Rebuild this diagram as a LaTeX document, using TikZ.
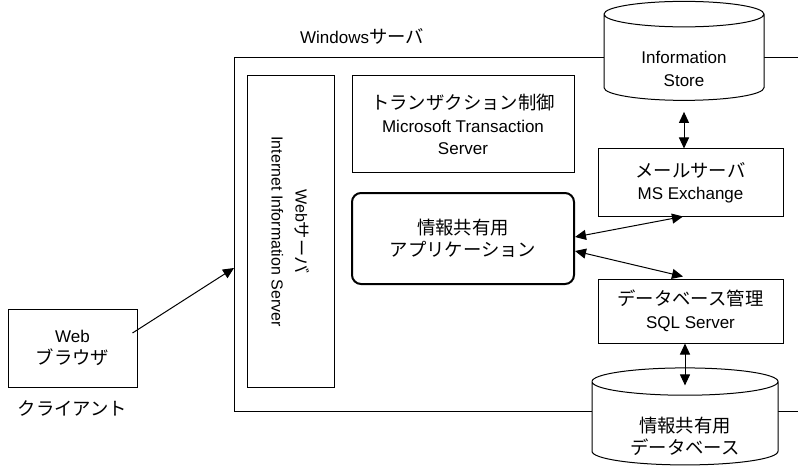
\documentclass[tikz,border=0pt]{standalone}
\usepackage{fontspec}
\setmainfont{Liberation Sans}
\newfontfamily\jp[Scale=1.08]{Noto Sans CJK JP}
\usetikzlibrary{positioning,shapes.geometric,arrows.meta}
\tikzstyle{B} = [rectangle,
			draw, fill=white,
			align=center, inner sep=0pt]
\tikzstyle{D} = [cylinder, shape border rotate=90,
			draw, fill=white,
			align=center, inner sep=0pt]
\tikzstyle{L} = [draw, {Triangle[length=11pt,width=10pt]}-{Triangle[length=11pt,width=10pt]}]
% text of a cylinder, lowered into its body
\newcommand{\cyltext}[2]{\raisebox{#1}[0pt][0pt]{\begin{tabular}{@{}c@{}}#2\end{tabular}}}

\begin{document}
\begin{tikzpicture}[x=1pt, y=-1pt, line width=1pt,
			font=\fontsize{17}{22.5}\selectfont]

\useasboundingbox (0,0) rectangle (798,468);

\node [B, anchor=north west, minimum width=620pt, minimum height=354pt]
(win) at (234,57)
	{};

\node
(wlab) at (362,36)
	{Windows{\jp サーバ}};

\node [B, rotate=-90, minimum width=311pt, minimum height=87pt,
			font=\fontsize{16}{24}\selectfont]
(web) at (290.5,231.5)
	{Web{\jp サーバ}\\Internet Information Server};

\node [B, minimum width=222pt, minimum height=97pt]
(trans) at (463,124.5)
	{{\jp トランザクション制御}\\Microsoft Transaction\\Server};

\node [B, minimum width=222pt, minimum height=91pt,
			rounded corners=9pt, line width=2pt]
(app) at (463,238.5)
	{{\jp 情報共有用}\\{\jp アプリケーション}};

\node [D, minimum width=160pt, minimum height=99pt, aspect=0.3]
(istore) at (684,57.5)
	{\cyltext{-17.5pt}{Information\\Store}};

\node [B, minimum width=185pt, minimum height=67pt]
(mail) at (690.5,182.5)
	{{\jp メールサーバ}\\MS Exchange};

\node [B, minimum width=185pt, minimum height=64pt]
(dbms) at (690.5,311)
	{{\jp データベース管理}\\SQL Server};

\node [D, minimum width=186pt, minimum height=97pt, aspect=0.25]
(db) at (685,423.5)
	{\cyltext{-20pt}{{\jp 情報共有用}\\{\jp データベース}}};

\node [B, minimum width=129pt, minimum height=78pt]
(brw) at (72.5,348)
	{Web\\{\jp ブラウザ}};

\node [below=9pt of brw]
(cli)
	{\jp クライアント};

\coordinate (entry) at (234,268);

\path[draw, -{Triangle[length=11pt,width=10pt]}] ([shift={(-5pt,15pt)}]brw.east) -- (entry);

\path[L, shorten <=11pt] (istore.south) -- (istore.south |- mail.north);

\path[L] ([yshift=1.5pt]app.east) -- ([xshift=-7.5pt]mail.south);

\path[L] ([yshift=-12.5pt]app.east) -- ([xshift=-7.5pt,yshift=2pt]dbms.north);

\path[L, shorten >=-18pt] (db.north |- dbms.south) -- (db.north);

\end{tikzpicture}
\end{document}
